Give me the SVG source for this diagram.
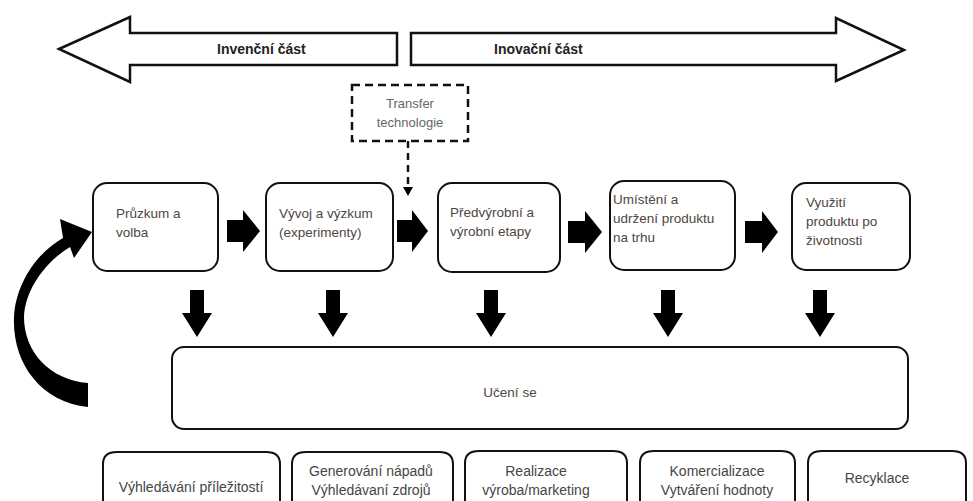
<svg xmlns="http://www.w3.org/2000/svg" width="973" height="501" viewBox="0 0 973 501">
<style>
  .big { fill: #fff; stroke: #111; stroke-width: 2.5; stroke-linejoin: miter; }
  .box { fill: #fff; stroke: #111; stroke-width: 2; }
  .blk { fill: #000; stroke: none; }
  .hdr { font-family: "Liberation Sans", Arial, sans-serif; font-size: 14px; font-weight: bold; fill: #222; }
  .t { font-family: "Liberation Sans", Arial, sans-serif; font-size: 13.5px; fill: #4e463e; }
  .b { font-family: "Liberation Sans", Arial, sans-serif; font-size: 14px; fill: #454545; }
  .g { font-family: "Liberation Sans", Arial, sans-serif; font-size: 13px; fill: #666; }
</style>
<rect width="973" height="501" fill="#fff"/>

<g id="invencni">
  <polygon class="big" points="59,49 130,17 130,33 397,33 397,65 130,65 130,82"/>
  <text class="hdr" x="217" y="54">Invenční část</text>
</g>
<g id="inovacni">
  <polygon class="big" points="411,33 836,33 836,18 904,50 836,81 836,65 411,65"/>
  <text class="hdr" x="494" y="54">Inovační část</text>
</g>

<g id="transfer">
  <rect x="352" y="85" width="116" height="56" fill="#fff" stroke="#111" stroke-width="2.5" stroke-dasharray="8,5"/>
  <text class="g" x="410" y="108" text-anchor="middle">Transfer</text>
  <text class="g" x="410" y="127" text-anchor="middle">technologie</text>
</g>

<g id="pruzkum">
  <rect class="box" x="93" y="183" width="125" height="88" rx="14"/>
  <text class="t" x="116" y="218">Průzkum a</text>
  <text class="t" x="116" y="237">volba</text>
</g>
<g id="vyvoj">
  <rect class="box" x="266" y="183" width="127" height="88" rx="14"/>
  <text class="t" x="279" y="218">Vývoj a výzkum</text>
  <text class="t" x="279" y="237">(experimenty)</text>
</g>
<g id="predvyrobni">
  <rect class="box" x="438" y="183" width="122" height="89" rx="14"/>
  <text class="t" x="450" y="217">Předvýrobní a</text>
  <text class="t" x="450" y="236">výrobní etapy</text>
</g>
<g id="umisteni">
  <rect class="box" x="610" y="181" width="125" height="89" rx="14"/>
  <text class="t" x="613" y="204">Umístění a</text>
  <text class="t" x="613" y="223">udržení produktu</text>
  <text class="t" x="613" y="242">na trhu</text>
</g>
<g id="vyuziti">
  <rect class="box" x="792" y="183" width="118" height="87" rx="14"/>
  <text class="t" x="806" y="207">Využití</text>
  <text class="t" x="806" y="226">produktu po</text>
  <text class="t" x="806" y="245">životnosti</text>
</g>

<g id="uceni">
  <rect class="box" x="172" y="347" width="736" height="82" rx="12"/>
  <text class="t" x="510" y="397" text-anchor="middle">Učení se</text>
</g>

<g id="vyhledavani">
  <path class="box" d="M103 501 V464 Q103 452 117 452 L266 452 Q280 452 280 464 V501"/>
  <text class="b" x="191" y="492" text-anchor="middle">Výhledávání příležitostí</text>
</g>
<g id="generovani">
  <path class="box" d="M292 501 V464 Q292 452 306 452 L439 452 Q453 452 453 464 V501"/>
  <text class="b" x="371" y="476" text-anchor="middle">Generování nápadů</text>
  <text class="b" x="371" y="495" text-anchor="middle">Výhledávaní zdrojů</text>
</g>
<g id="realizace">
  <path class="box" d="M465 501 V463 Q465 451 479 451 L613 451 Q627 451 627 463 V501"/>
  <text class="b" x="536" y="476" text-anchor="middle">Realizace</text>
  <text class="b" x="536" y="495" text-anchor="middle">výroba/marketing</text>
</g>
<g id="komercializace">
  <path class="box" d="M640 501 V463 Q640 451 654 451 L781 451 Q795 451 795 463 V501"/>
  <text class="b" x="717" y="476" text-anchor="middle">Komercializace</text>
  <text class="b" x="717" y="495" text-anchor="middle">Vytváření hodnoty</text>
</g>
<g id="recyklace">
  <path class="box" d="M808 501 V463 Q808 451 822 451 L952 451 Q966 451 966 463 V501"/>
  <text class="b" x="877" y="483" text-anchor="middle">Recyklace</text>
</g>

<g id="connectors">
  <line x1="408" y1="141" x2="408" y2="188" stroke="#111" stroke-width="2.5" stroke-dasharray="7,5"/>
  <polygon class="blk" points="403,187 413,187 408,196"/>
  <polygon class="blk" points="227,220 243,220 243,210 260,231 243,252 243,242 227,242"/>
  <polygon class="blk" points="397,220 412,220 412,210 428,231 412,252 412,242 397,242"/>
  <polygon class="blk" points="568,221 585,221 585,211 602,232 585,253 585,243 568,243"/>
  <polygon class="blk" points="745,221 762,221 762,211 778,232 762,253 762,243 745,243"/>
  <polygon class="blk" points="190,290 204,290 204,313 212,313 197,337 182,313 190,313"/>
  <polygon class="blk" points="326,290 340,290 340,313 348,313 333,337 318,313 326,313"/>
  <polygon class="blk" points="484,290 498,290 498,313 506,313 491,337 476,313 484,313"/>
  <polygon class="blk" points="661,290 675,290 675,313 683,313 668,337 653,313 661,313"/>
  <polygon class="blk" points="813,290 827,290 827,313 835,313 820,337 805,313 813,313"/>
  <path class="blk" d="M88 383 L88 407 C40 402 12 362 14 317 C16 282 38 252 63 238 L60 219 L92 232 L74 258 L70 247 C45 262 25 290 24 317 C24 352 50 380 88 383 Z"/>
</g>
</svg>
